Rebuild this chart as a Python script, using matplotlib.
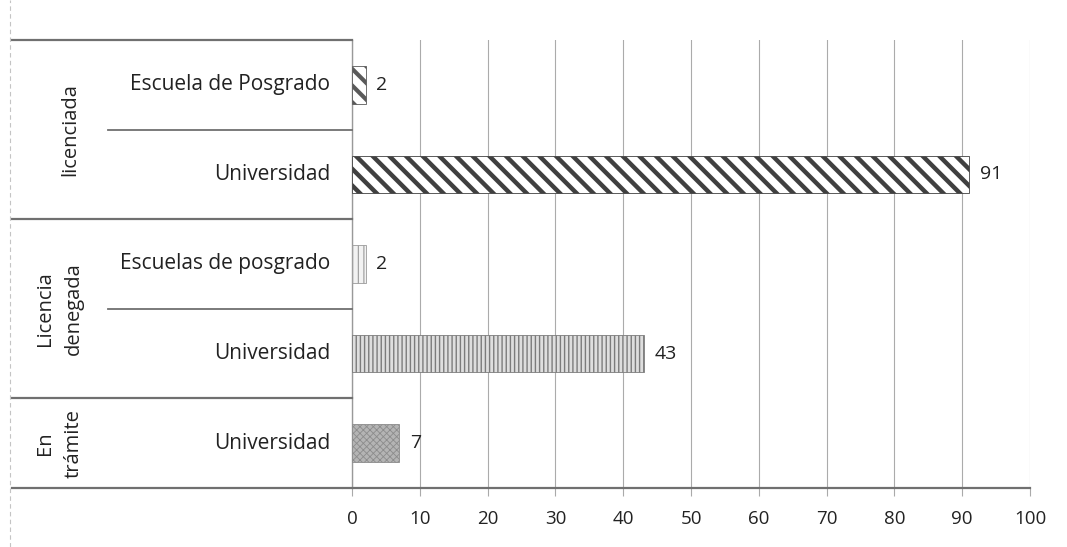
import matplotlib
matplotlib.use('Agg')
import numpy as np
from matplotlib import pyplot as plt
from matplotlib.lines import Line2D

plt.rcParams['font.family'] = ['Open Sans', 'DejaVu Sans']

# datos (de arriba hacia abajo)
groups = ['licenciada', 'Licencia\ndenegada', 'En\ntrámite']
group_sizes = [2, 2, 1]
subcats = ['Escuela de Posgrado', 'Universidad', 'Escuelas de posgrado', 'Universidad', 'Universidad']
values = [2, 91, 2, 43, 7]
xticks = [0, 10, 20, 30, 40, 50, 60, 70, 80, 90, 100]

# estilos de cada barra
faces = ['white', 'white', '#f2f2f2', '#dedede', '#b4b4b4']
hatches = ['\\\\', '\\\\', '|||', '||||', 'xxxxx']
hcolors = ['#5a5a5a', '#404040', '#9a9a9a', '#7c7c7c', '#8c8c8c']
hwidths = [3.0, 3.2, 0.8, 1.0, 0.6]

W, H = 1067, 547
fig = plt.figure(figsize=(W / 100, H / 100), dpi=100)
x0, x1, y0, y1 = 352, 1030, 40, 488
ax = fig.add_axes([x0 / W, 1 - y1 / H, (x1 - x0) / W, (y1 - y0) / H])

n = len(values)
ypos = np.arange(n)
for i in range(n):
    with plt.rc_context({'hatch.linewidth': hwidths[i]}):
        bars = ax.barh(ypos[i], values[i], height=0.42, color=faces[i], hatch=hatches[i],
                       edgecolor=hcolors[i], linewidth=0.6, zorder=3)
        for b in bars:
            try:
                b.set_hatch_linewidth(hwidths[i])
            except AttributeError:
                pass
    ax.text(values[i] + 1.6, ypos[i], str(values[i]), va='center', ha='left',
            fontsize=14, color='#222222', zorder=4)

ax.set_xlim(0, 100)
ax.set_ylim(n - 0.5, -0.5)
ax.set_xticks(xticks)
ax.set_xticklabels([str(t) for t in xticks], fontsize=13.5, color='#222222')
ax.set_yticks([])
ax.tick_params(axis='x', length=6, color='#aaaaaa', pad=10)
ax.grid(axis='x', color='#ababab', linewidth=0.8, zorder=0)
for s in ['top', 'right', 'bottom']:
    ax.spines[s].set_visible(False)
ax.spines['left'].set_color('#999999')
ax.spines['left'].set_linewidth(1.0)

# etiquetas de subcategoria
row_h = (y1 - y0) / n
for i, lab in enumerate(subcats):
    yc = y0 + row_h * (i + 0.5)
    fig.text(330 / W, 1 - yc / H, lab, ha='right', va='center', fontsize=15, color='#222222')


def hline(xa, xb, y, lw=1.6, c='#707070'):
    fig.add_artist(Line2D([xa / W, xb / W], [1 - y / H, 1 - y / H], color=c, linewidth=lw))


# lineas separadoras de grupos
hline(12, 352, y0)
start = 0
group_x = [70, 59, 59]
for g, size in enumerate(group_sizes):
    for k in range(1, size):
        hline(108, 352, y0 + row_h * (start + k), lw=1.3)
    yc = y0 + row_h * (start + size / 2)
    fig.text(group_x[g] / W, 1 - yc / H, groups[g], rotation=90, ha='center', va='center',
             fontsize=14.5, color='#222222', linespacing=1.6)
    start += size
    hline(12, 352 if start < n else x1, y0 + row_h * start)

# borde punteado del escaneo
fig.add_artist(Line2D([10 / W, 10 / W], [0, 1], color='#c4c4c4', linewidth=0.8, linestyle=(0, (4, 3))))

fig.savefig('out.png', dpi=100)
